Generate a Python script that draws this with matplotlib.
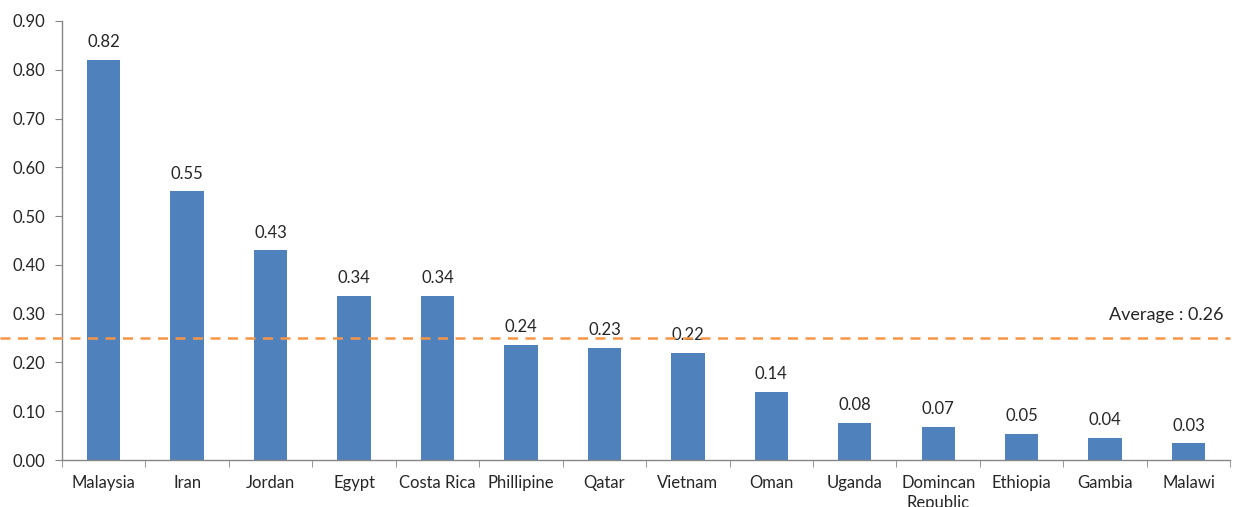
import matplotlib
matplotlib.use("Agg")
import matplotlib.pyplot as plt
import numpy as np

categories = ["Malaysia", "Iran", "Jordan", "Egypt", "Costa Rica", "Phillipine", "Qatar",
              "Vietnam", "Oman", "Uganda", "Domincan\nRepublic", "Ethiopia", "Gambia", "Malawi"]
values = [0.82, 0.551, 0.43, 0.336, 0.336, 0.236, 0.23, 0.219, 0.139, 0.076, 0.068, 0.053, 0.046, 0.034]
value_labels = ["0.82", "0.55", "0.43", "0.34", "0.34", "0.24", "0.23", "0.22", "0.14",
                "0.08", "0.07", "0.05", "0.04", "0.03"]
average_line = 0.25
average_label = "Average : 0.26"
yticks = [0.0, 0.1, 0.2, 0.3, 0.4, 0.5, 0.6, 0.7, 0.8, 0.9]

plt.rcParams['font.family'] = ['Lato', 'DejaVu Sans']
text_color = "#262626"
axis_color = "#868686"

fig = plt.figure(figsize=(12.34, 5.07), dpi=100)
ax = fig.add_axes([0.0502, 0.0927, 0.9468, 0.8659])

x = np.arange(len(categories))
ax.bar(x, values, width=0.4, color="#4F81BD", zorder=2)
for xi, v, lab in zip(x, values, value_labels):
    ax.annotate(lab, (xi, v), xytext=(0, 7), textcoords="offset points",
                ha="center", va="bottom", fontsize=12, color=text_color)

ax.set_xlim(-0.5, len(categories) - 0.5)
ax.set_ylim(0, 0.9)
ax.set_yticks(yticks)
ax.set_yticklabels([f"{t:.2f}" for t in yticks], fontsize=12, color=text_color)
ax.set_xticks(x)
ax.set_xticklabels(categories, fontsize=12, color=text_color, linespacing=1.25)
ax.tick_params(axis="x", length=0, pad=11)
ax.set_xticks(np.arange(-0.5, len(categories), 1.0), minor=True)
ax.tick_params(axis="x", which="minor", length=5, color=axis_color, direction="out")
ax.tick_params(axis="y", length=5, color=axis_color, direction="out", pad=7)

for s in ["top", "right"]:
    ax.spines[s].set_visible(False)
for s in ["left", "bottom"]:
    ax.spines[s].set_color(axis_color)
    ax.spines[s].set_linewidth(1.0)

trans = ax.get_yaxis_transform()
ax.plot([-0.053, 1.0], [average_line, average_line], transform=trans, clip_on=False,
        color="#F79646", linestyle=(0, (4, 3)), linewidth=1.8, zorder=3)
ax.text(0.9945, average_line + 0.03, average_label, transform=trans, ha="right",
        va="bottom", fontsize=13, color=text_color)

fig.savefig("out.png", dpi=100)
